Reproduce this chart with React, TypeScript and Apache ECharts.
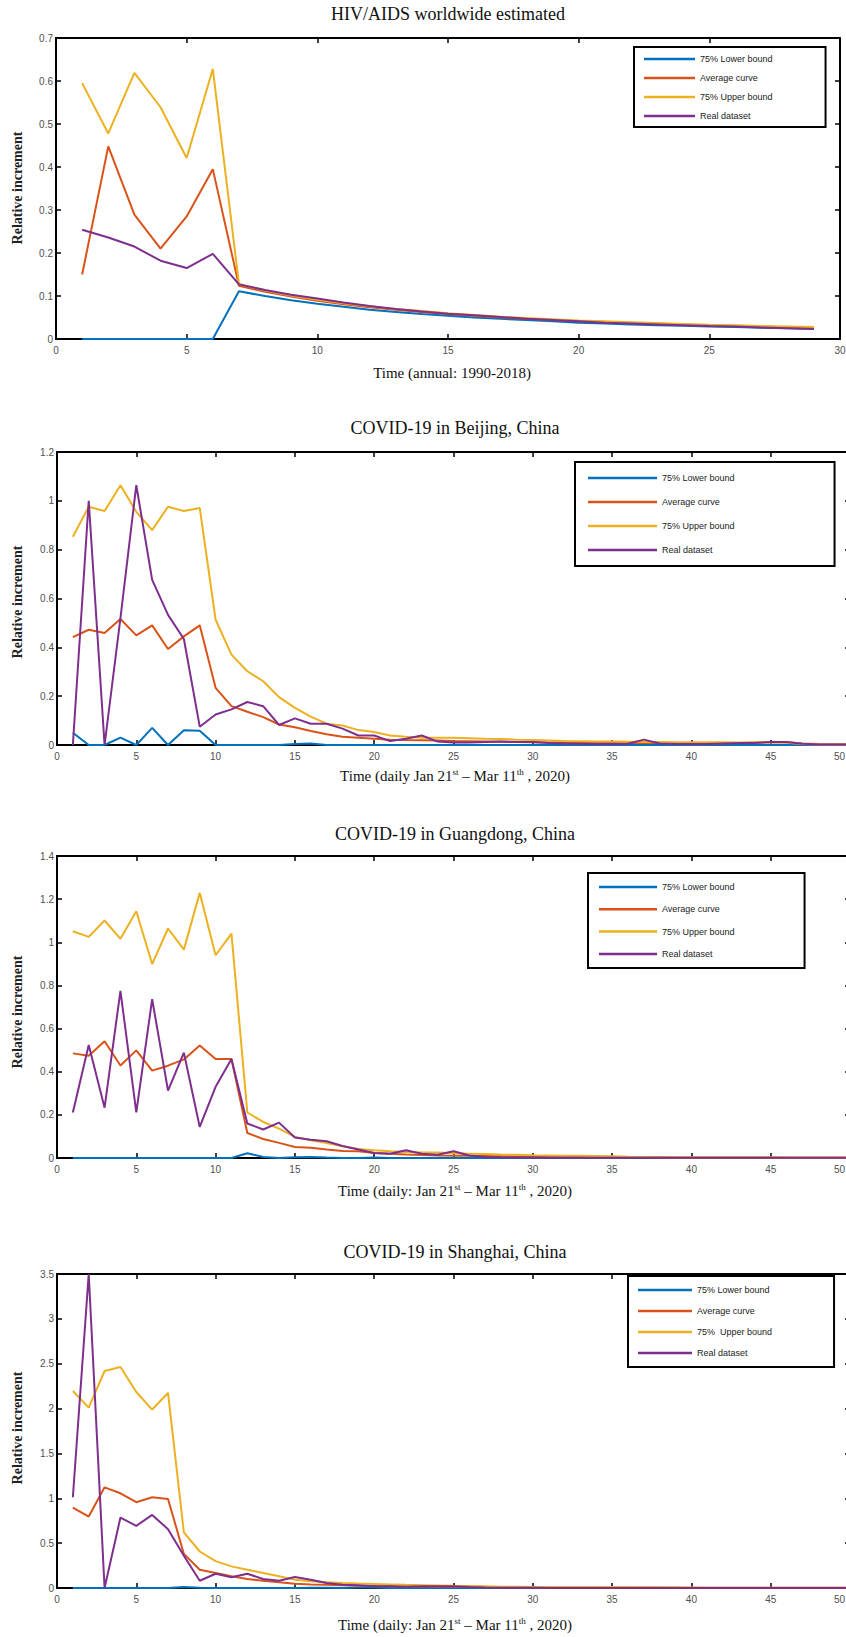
import React, { useEffect, useRef } from "react";
import * as echarts from "echarts";

// ---------------- DATA ----------------
const seriesNames = ["75% Lower bound", "Average curve", "75% Upper bound", "Real dataset"];
const seriesNamesSH = ["75% Lower bound", "Average curve", "75%  Upper bound", "Real dataset"];
const seriesColors = ["#0072BD", "#D95319", "#EDB120", "#7E2F8E"];

const chartTitles = [
  "HIV/AIDS worldwide estimated",
  "COVID-19 in Beijing, China",
  "COVID-19 in Guangdong, China",
  "COVID-19 in Shanghai, China",
];
const xAxisTitles = [
  "Time (annual: 1990-2018)",
  "Time (daily Jan 21{sup|st} – Mar 11{sup|th} , 2020)",
  "Time (daily: Jan 21{sup|st} – Mar 11{sup|th} , 2020)",
  "Time (daily: Jan 21{sup|st} – Mar 11{sup|th} , 2020)",
];
const yAxisTitle = "Relative increment";

const xMaxes = [30, 50, 50, 50];
const xIntervals = [5, 5, 5, 5];
const yMaxes = [0.7, 1.2, 1.4, 3.5];
const yIntervals = [0.1, 0.2, 0.2, 0.5];

// HIV/AIDS (x = 1..29)
const hivLower = [0, 0, 0, 0, 0, 0, 0.111, 0.100, 0.090, 0.082, 0.075, 0.068, 0.063, 0.058, 0.054, 0.050, 0.047, 0.044, 0.041, 0.038, 0.036, 0.034, 0.032, 0.031, 0.029, 0.028, 0.026, 0.025, 0.024];
const hivAverage = [0.150, 0.448, 0.289, 0.210, 0.285, 0.395, 0.124, 0.110, 0.099, 0.089, 0.081, 0.074, 0.068, 0.063, 0.058, 0.054, 0.050, 0.047, 0.044, 0.041, 0.039, 0.037, 0.035, 0.033, 0.031, 0.030, 0.028, 0.027, 0.026];
const hivUpper = [0.595, 0.478, 0.619, 0.539, 0.421, 0.628, 0.128, 0.113, 0.101, 0.091, 0.083, 0.076, 0.070, 0.065, 0.060, 0.056, 0.052, 0.049, 0.046, 0.043, 0.041, 0.039, 0.037, 0.035, 0.033, 0.032, 0.030, 0.029, 0.028];
const hivReal = [0.254, 0.236, 0.215, 0.182, 0.165, 0.198, 0.127, 0.114, 0.103, 0.094, 0.085, 0.077, 0.070, 0.064, 0.059, 0.055, 0.051, 0.047, 0.044, 0.041, 0.038, 0.036, 0.034, 0.032, 0.030, 0.029, 0.027, 0.025, 0.023];

// Beijing (x = 1..50)
const bjLower = [0.05, 0, 0, 0.03, 0, 0.07, 0, 0.06, 0.058, 0, 0, 0, 0, 0, 0.004, 0.006, 0, 0, 0, 0, 0, 0, 0, 0, 0, 0, 0, 0, 0, 0, 0, 0, 0, 0, 0, 0, 0, 0, 0, 0, 0, 0, 0, 0, 0, 0, 0, 0, 0, 0];
const bjAverage = [0.442, 0.472, 0.459, 0.516, 0.449, 0.490, 0.393, 0.445, 0.490, 0.234, 0.159, 0.136, 0.114, 0.084, 0.073, 0.057, 0.044, 0.034, 0.030, 0.026, 0.022, 0.020, 0.019, 0.018, 0.016, 0.015, 0.014, 0.013, 0.012, 0.011, 0.010, 0.010, 0.009, 0.009, 0.009, 0.008, 0.008, 0.008, 0.008, 0.007, 0.007, 0.007, 0.008, 0.010, 0.012, 0.011, 0.006, 0.004, 0.003, 0.003];
const bjUpper = [0.853, 0.976, 0.958, 1.064, 0.955, 0.880, 0.976, 0.958, 0.971, 0.513, 0.370, 0.302, 0.261, 0.196, 0.152, 0.116, 0.087, 0.080, 0.061, 0.053, 0.039, 0.034, 0.030, 0.030, 0.030, 0.028, 0.026, 0.025, 0.022, 0.020, 0.018, 0.016, 0.015, 0.014, 0.014, 0.013, 0.012, 0.012, 0.011, 0.011, 0.011, 0.011, 0.010, 0.010, 0.010, 0.009, 0.004, 0.002, 0.002, 0.002];
const bjReal = [0.0, 1.0, 0.0, 0.52, 1.064, 0.676, 0.533, 0.434, 0.075, 0.125, 0.146, 0.176, 0.159, 0.082, 0.109, 0.087, 0.087, 0.067, 0.039, 0.039, 0.016, 0.026, 0.039, 0.014, 0.010, 0.010, 0.012, 0.014, 0.012, 0.012, 0.008, 0.006, 0.005, 0.004, 0.004, 0.005, 0.022, 0.006, 0.004, 0.004, 0.004, 0.006, 0.008, 0.008, 0.012, 0.012, 0.005, 0.002, 0.002, 0.002];

// Guangdong (x = 1..50)
const gdLower = [0, 0, 0, 0, 0, 0, 0, 0, 0, 0, 0, 0.022, 0.005, 0, 0.003, 0.005, 0.002, 0, 0, 0.002, 0, 0, 0, 0, 0, 0, 0, 0, 0, 0, 0, 0, 0, 0, 0, 0, 0, 0, 0, 0, 0, 0, 0, 0, 0, 0, 0, 0, 0, 0];
const gdAverage = [0.485, 0.474, 0.541, 0.429, 0.499, 0.405, 0.428, 0.457, 0.522, 0.459, 0.459, 0.116, 0.088, 0.070, 0.051, 0.048, 0.039, 0.033, 0.031, 0.023, 0.020, 0.016, 0.014, 0.012, 0.011, 0.010, 0.009, 0.008, 0.007, 0.006, 0.006, 0.005, 0.005, 0.004, 0.004, 0.003, 0.003, 0.003, 0.002, 0.002, 0.002, 0.002, 0.002, 0.002, 0.002, 0.001, 0.001, 0.001, 0.001, 0.001];
const gdUpper = [1.051, 1.025, 1.101, 1.016, 1.144, 0.899, 1.064, 0.966, 1.229, 0.940, 1.040, 0.211, 0.167, 0.136, 0.098, 0.082, 0.070, 0.054, 0.042, 0.036, 0.031, 0.028, 0.026, 0.025, 0.022, 0.020, 0.018, 0.016, 0.015, 0.013, 0.012, 0.011, 0.010, 0.009, 0.008, 0.006, 0.005, 0.004, 0.004, 0.003, 0.003, 0.003, 0.003, 0.003, 0.003, 0.002, 0.002, 0.002, 0.002, 0.002];
const gdReal = [0.211, 0.524, 0.233, 0.775, 0.211, 0.736, 0.312, 0.488, 0.144, 0.330, 0.459, 0.160, 0.132, 0.164, 0.095, 0.085, 0.078, 0.056, 0.039, 0.023, 0.020, 0.036, 0.020, 0.015, 0.031, 0.012, 0.005, 0.003, 0.002, 0.002, 0.001, 0.001, 0.001, 0.001, 0.001, 0.001, 0.001, 0.001, 0.001, 0.001, 0.001, 0.001, 0.001, 0.001, 0.001, 0.001, 0.001, 0.001, 0.001, 0.001];

// Shanghai (x = 1..50)
const shLower = [0, 0, 0, 0, 0, 0, 0, 0.012, 0.004, 0, 0, 0, 0, 0, 0, 0.004, 0.004, 0, 0.005, 0.005, 0, 0, 0, 0, 0, 0, 0, 0, 0, 0, 0, 0, 0, 0, 0, 0, 0, 0, 0, 0, 0, 0, 0, 0, 0, 0, 0, 0, 0, 0];
const shAverage = [0.896, 0.796, 1.122, 1.056, 0.956, 1.011, 0.993, 0.380, 0.204, 0.167, 0.130, 0.100, 0.081, 0.063, 0.048, 0.040, 0.035, 0.030, 0.025, 0.022, 0.020, 0.018, 0.016, 0.015, 0.014, 0.012, 0.011, 0.010, 0.009, 0.008, 0.008, 0.007, 0.007, 0.006, 0.006, 0.005, 0.005, 0.005, 0.004, 0.004, 0.004, 0.004, 0.003, 0.003, 0.003, 0.003, 0.003, 0.003, 0.002, 0.002];
const shUpper = [2.196, 2.011, 2.419, 2.463, 2.185, 1.989, 2.174, 0.619, 0.407, 0.300, 0.241, 0.204, 0.167, 0.130, 0.093, 0.074, 0.063, 0.056, 0.050, 0.045, 0.040, 0.035, 0.032, 0.029, 0.025, 0.022, 0.019, 0.015, 0.013, 0.011, 0.010, 0.010, 0.010, 0.010, 0.010, 0.010, 0.009, 0.008, 0.008, 0.006, 0.004, 0.003, 0.003, 0.003, 0.003, 0.003, 0.002, 0.002, 0.002, 0.002];
const shReal = [1.011, 3.5, 0.0, 0.785, 0.693, 0.815, 0.656, 0.360, 0.081, 0.159, 0.119, 0.159, 0.100, 0.081, 0.122, 0.093, 0.056, 0.037, 0.030, 0.020, 0.020, 0.015, 0.020, 0.020, 0.020, 0.010, 0.005, 0.003, 0.002, 0.002, 0.001, 0.001, 0.001, 0.001, 0.001, 0.001, 0.001, 0.001, 0.001, 0.001, 0.001, 0.001, 0.001, 0.001, 0.001, 0.001, 0.001, 0.001, 0.001, 0.001];

const chartSeries = [
  [hivLower, hivAverage, hivUpper, hivReal],
  [bjLower, bjAverage, bjUpper, bjReal],
  [gdLower, gdAverage, gdUpper, gdReal],
  [shLower, shAverage, shUpper, shReal],
];
const chartNames = [seriesNames, seriesNames, seriesNames, seriesNamesSH];

// ---------------- LAYOUT ----------------
const W = 846;
const H = 1637;
const grids = [
  { left: 56, top: 38, width: 784, height: 301 },
  { left: 57, top: 452, width: 793, height: 293 },
  { left: 57, top: 856, width: 793, height: 302 },
  { left: 57, top: 1274, width: 793, height: 314 },
];
const titleY = [14, 428, 834, 1252];
const xTitleY = [373, 776, 1191, 1625];
const yTitleY = [188, 602, 1012, 1428];
const legendLayout = [
  { left: 634, top: 47, padding: [7, 53, 6, 10], itemWidth: 51, itemGap: 9 },
  { left: 575, top: 462, padding: [11, 100, 11, 13], itemWidth: 69, itemGap: 14 },
  { left: 588, top: 873, padding: [9, 70, 9, 11], itemWidth: 58, itemGap: 12.3 },
  { left: 628, top: 1276, padding: [9, 62, 9, 10], itemWidth: 54, itemGap: 11 },
];

const SERIF = '"Liberation Serif", "Times New Roman", serif';
const SANS = '"Liberation Sans", Arial, sans-serif';
const TICK_COLOR = "#505050";

function buildOption() {
  const grid: any[] = [];
  const xAxis: any[] = [];
  const yAxis: any[] = [];
  const series: any[] = [];
  const legend: any[] = [];
  const graphic: any[] = [];

  const lineStyle = { color: "#000", width: 2 };
  const tickStyle = { color: "#000", width: 1.5 };

  for (let i = 0; i < 4; i++) {
    const g = grids[i];
    const overflowRight = g.left + g.width > W;
    grid.push({
      left: g.left,
      top: g.top,
      width: g.width,
      height: g.height,
      containLabel: false,
      outerBoundsMode: "none",
    });
    const xCommon = {
      type: "value",
      gridIndex: i,
      min: 0,
      max: xMaxes[i],
      interval: xIntervals[i],
      splitLine: { show: false },
      axisLine: { show: true, onZero: false, lineStyle },
      axisTick: { show: true, inside: true, length: 5, lineStyle: tickStyle },
    };
    const xMax = xMaxes[i];
    xAxis.push({
      ...xCommon,
      position: "bottom",
      axisLabel: overflowRight
        ? {
            show: true,
            color: TICK_COLOR,
            fontSize: 10,
            fontFamily: SANS,
            margin: 6,
            alignMaxLabel: "right",
            formatter: (v: number) => (v === xMax ? `{e|${v}}` : `${v}`),
            rich: {
              e: { fontSize: 10, fontFamily: SANS, color: TICK_COLOR, padding: [0, 5, 0, 0] },
            },
          }
        : { show: true, color: TICK_COLOR, fontSize: 10, fontFamily: SANS, margin: 6 },
    });
    xAxis.push({ ...xCommon, position: "top", axisLabel: { show: false } });
    const yCommon = {
      type: "value",
      gridIndex: i,
      min: 0,
      max: yMaxes[i],
      interval: yIntervals[i],
      splitLine: { show: false },
      axisLine: { show: true, onZero: false, lineStyle },
      axisTick: { show: true, inside: true, length: 5, lineStyle: tickStyle },
    };
    yAxis.push({
      ...yCommon,
      position: "left",
      axisLabel: { show: true, color: TICK_COLOR, fontSize: 10, fontFamily: SANS, margin: 3 },
    });
    yAxis.push({ ...yCommon, position: "right", axisLabel: { show: false } });

    const names = chartNames[i];
    chartSeries[i].forEach((vals, k) => {
      series.push({
        type: "line",
        name: names[k],
        xAxisIndex: 2 * i,
        yAxisIndex: 2 * i,
        data: vals.map((v, j) => [j + 1, v]),
        symbol: "none",
        showSymbol: false,
        itemStyle: { color: seriesColors[k] },
        lineStyle: { color: seriesColors[k], width: 2 },
        z: 2 + k,
        silent: true,
      });
    });

    const L = legendLayout[i];
    legend.push({
      orient: "vertical",
      left: L.left,
      top: L.top,
      padding: L.padding,
      itemWidth: L.itemWidth,
      itemHeight: 2.5,
      itemGap: L.itemGap,
      icon: "rect",
      data: names,
      selectedMode: false,
      backgroundColor: "#fff",
      borderColor: "#000",
      borderWidth: 2,
      textStyle: { fontSize: 9, fontFamily: SANS, color: "#222", lineHeight: 10 },
    });

    graphic.push({
      type: "text",
      x: i === 0 ? 448 : 455,
      y: titleY[i],
      style: {
        text: chartTitles[i],
        font: `18px ${SERIF}`,
        fill: "#111",
        textAlign: "center",
        verticalAlign: "middle",
      },
    });
    graphic.push({
      type: "text",
      x: i === 0 ? 452 : 455,
      y: xTitleY[i],
      style: {
        text: xAxisTitles[i],
        font: `15px ${SERIF}`,
        fill: "#111",
        textAlign: "center",
        verticalAlign: "middle",
        rich: {
          sup: { fontSize: 9, fontFamily: SERIF, fill: "#111", padding: [0, 0, 8, 0] },
        },
      },
    });
    graphic.push({
      type: "text",
      x: 17,
      y: yTitleY[i],
      rotation: Math.PI / 2,
      style: {
        text: yAxisTitle,
        font: `bold 14px ${SERIF}`,
        fill: "#222",
        textAlign: "center",
        verticalAlign: "middle",
      },
    });
  }

  return {
    animation: false,
    backgroundColor: "#fff",
    grid,
    xAxis,
    yAxis,
    series,
    legend,
    graphic,
  };
}

export default function App() {
  const ref = useRef<HTMLDivElement | null>(null);
  useEffect(() => {
    if (!ref.current) return;
    const chart = echarts.init(ref.current, null, { renderer: "svg", width: W, height: H });
    chart.setOption(buildOption() as any);
    return () => chart.dispose();
  }, []);
  return (
    <div
      ref={ref}
      style={{ position: "absolute", left: 0, top: 0, width: W, height: H, background: "#fff" }}
    />
  );
}
